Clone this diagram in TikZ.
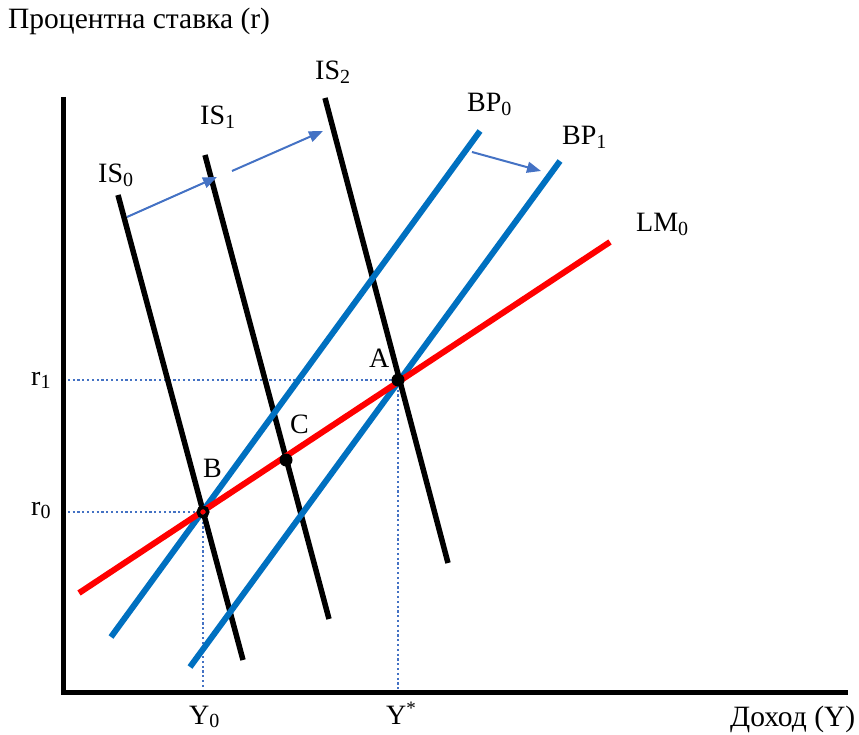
\documentclass[tikz,border=0pt]{standalone}
\usepackage{fontspec}
\setmainfont{Liberation Serif}
\usetikzlibrary{arrows.meta}
\definecolor{bpblue}{RGB}{0,112,192}
\definecolor{arrblue}{RGB}{68,114,196}
\newcommand\lowsub[1]{\raisebox{-0.28ex}{\fontsize{20}{20}\selectfont #1}}
\newcommand\highsup[1]{\raisebox{0.75ex}{\fontsize{19}{19}\selectfont #1}}
\tikzset{
  lbl/.style={anchor=base west,inner sep=0pt,font=\fontsize{28}{30}\selectfont},
  biglbl/.style={anchor=base west,inner sep=0pt,font=\fontsize{29.5}{31}\selectfont},
  axisline/.style={line width=5pt,black},
  isline/.style={line width=5.5pt,black},
  bpline/.style={line width=6pt,bpblue},
  lmline/.style={line width=6pt,red},
  guide/.style={line width=2.2pt,arrblue,dash pattern=on 2.2pt off 2.6pt},
  shift arrow/.style={line width=2pt,arrblue,-{Triangle[length=14pt,width=11pt]}},
  dotfill/.style={circle,fill=black,inner sep=0pt,minimum size=13pt},
  dotring/.style={circle,draw=black,line width=3.5pt,inner sep=0pt,minimum size=9.5pt}
}
\begin{document}
\begin{tikzpicture}[x=1pt,y=-1pt]
\useasboundingbox (0,0) rectangle (859,735);
% coordinates
\coordinate (O) at (63,692);
\coordinate (ytop) at (63,97);
\coordinate (xend) at (848,692);
\coordinate (is0a) at (118,195); \coordinate (is0b) at (243,660);
\coordinate (is1a) at (205,155); \coordinate (is1b) at (329,619);
\coordinate (is2a) at (325,98);  \coordinate (is2b) at (448,563);
\coordinate (bp0a) at (480,131); \coordinate (bp0b) at (111,637);
\coordinate (bp1a) at (560,161); \coordinate (bp1b) at (190,667);
\coordinate (lma) at (79,593);  \coordinate (lmb) at (610,242);
\coordinate (A) at (398,380);
\coordinate (B) at (203,512);
\coordinate (C) at (286,460);
\coordinate (yr1) at (63,380);
\coordinate (yr0) at (63,512);
\coordinate (xY0) at (203,692);
\coordinate (xYs) at (398,692);
\coordinate (a1s) at (127,217); \coordinate (a1e) at (217,177);
\coordinate (a2s) at (232,171); \coordinate (a2e) at (323,131);
\coordinate (a3s) at (472,152); \coordinate (a3e) at (541,171);
% guides
\draw[guide] (yr1) -- (A);
\draw[guide] (yr0) -- (B);
\draw[guide] (B) -- (xY0);
\draw[guide] (A) -- (xYs);
% axes
\draw[axisline] (ytop) -- (O) -- (xend);
% curves
\draw[isline] (is0a) -- (is0b);
\draw[isline] (is1a) -- (is1b);
\draw[isline] (is2a) -- (is2b);
\draw[bpline] (bp0a) -- (bp0b);
\draw[bpline] (bp1a) -- (bp1b);
\draw[lmline] (lma) -- (lmb);
% points
\node[dotfill] (pA) at (A) {};
\node[dotfill] (pC) at (C) {};
\node[dotring] (pB) at (B) {};
% shift arrows
\draw[shift arrow] (a1s) -- (a1e);
\draw[shift arrow] (a2s) -- (a2e);
\draw[shift arrow] (a3s) -- (a3e);
% labels
\node[biglbl] (ttl) at (8,29) {Процентна ставка (r)};
\node[biglbl] (xlab) at (730,726) {Доход (Y)};
\node[lbl] (lIS0) at (98,183) {IS\lowsub{0}};
\node[lbl] (lIS1) at (200,125) {IS\lowsub{1}};
\node[lbl] (lIS2) at (315,80) {IS\lowsub{2}};
\node[lbl] (lBP0) at (467,112) {BP\lowsub{0}};
\node[lbl] (lBP1) at (562,145) {BP\lowsub{1}};
\node[lbl] (lLM0) at (636,232) {LM\lowsub{0}};
\node[lbl] (lA) at (369,367) {A};
\node[lbl] (lC) at (290,433) {C};
\node[lbl] (lB) at (203,477) {B};
\node[lbl] (lr1) at (31,385) {r\lowsub{1}};
\node[lbl] (lr0) at (31,515) {r\lowsub{0}};
\node[lbl] (lY0) at (189,724) {Y\lowsub{0}};
\node[lbl] (lYs) at (386,724) {Y\highsup{*}};
\end{tikzpicture}
\end{document}
